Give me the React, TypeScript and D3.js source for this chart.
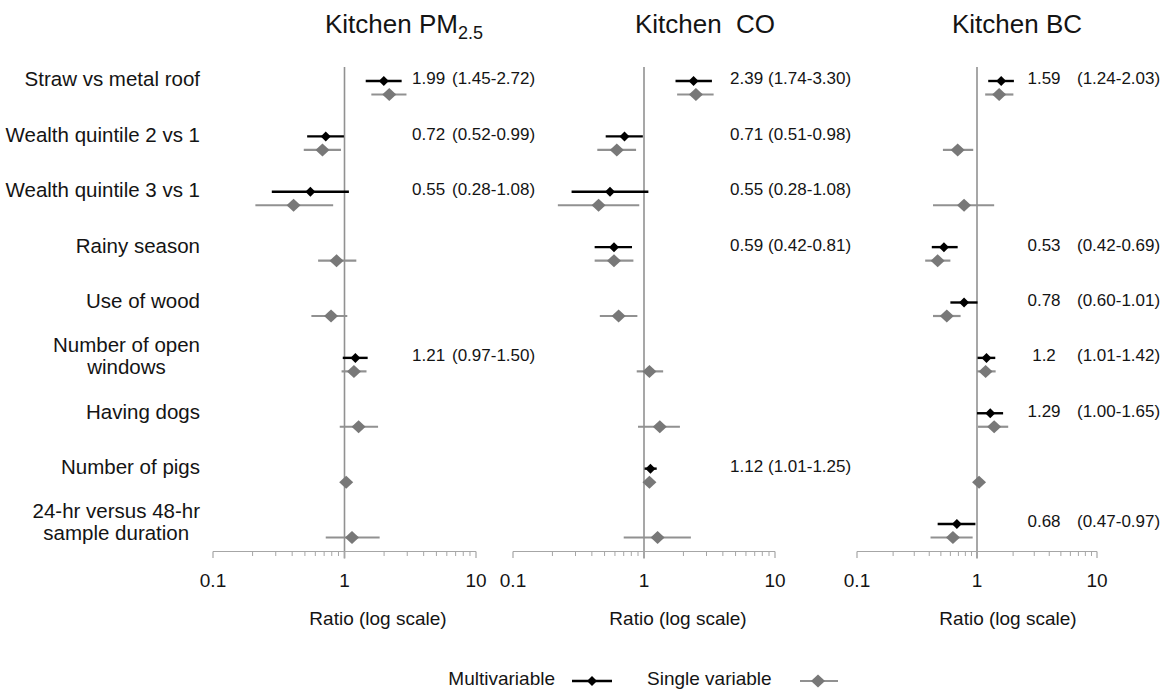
import React from "react";
import * as d3 from "d3";

const categories = [
  "Straw vs metal roof",
  "Wealth quintile 2 vs 1",
  "Wealth quintile 3 vs 1",
  "Rainy season",
  "Use of wood",
  "Number of open\nwindows",
  "Having dogs",
  "Number of pigs",
  "24-hr versus 48-hr\nsample duration",
];

type N = number | null;

// Kitchen PM2.5
const pm25Multi: N[] = [1.99, 0.72, 0.55, null, null, 1.21, null, null, null];
const pm25MultiLo: N[] = [1.45, 0.52, 0.28, null, null, 0.97, null, null, null];
const pm25MultiHi: N[] = [2.72, 0.99, 1.08, null, null, 1.5, null, null, null];
const pm25Single: N[] = [2.19, 0.68, 0.41, 0.87, 0.79, 1.18, 1.28, 1.03, 1.14];
const pm25SingleLo: N[] = [1.6, 0.49, 0.21, 0.63, 0.56, 0.95, 0.92, 1.01, 0.72];
const pm25SingleHi: N[] = [2.96, 0.94, 0.82, 1.23, 1.05, 1.47, 1.8, 1.05, 1.85];

// Kitchen CO
const coMulti: N[] = [2.39, 0.71, 0.55, 0.59, null, null, null, 1.12, null];
const coMultiLo: N[] = [1.74, 0.51, 0.28, 0.42, null, null, null, 1.01, null];
const coMultiHi: N[] = [3.3, 0.98, 1.08, 0.81, null, null, null, 1.25, null];
const coSingle: N[] = [2.49, 0.62, 0.45, 0.59, 0.64, 1.1, 1.32, 1.1, 1.27];
const coSingleLo: N[] = [1.79, 0.44, 0.22, 0.42, 0.46, 0.88, 0.9, 1.07, 0.7];
const coSingleHi: N[] = [3.4, 0.87, 0.92, 0.83, 0.89, 1.4, 1.88, 1.13, 2.28];

// Kitchen BC
const bcMulti: N[] = [1.59, null, null, 0.53, 0.78, 1.2, 1.29, null, 0.68];
const bcMultiLo: N[] = [1.24, null, null, 0.42, 0.6, 1.01, 1.0, null, 0.47];
const bcMultiHi: N[] = [2.03, null, null, 0.69, 1.01, 1.42, 1.65, null, 0.97];
const bcSingle: N[] = [1.53, 0.69, 0.78, 0.47, 0.56, 1.18, 1.39, 1.04, 0.63];
const bcSingleLo: N[] = [1.17, 0.52, 0.43, 0.37, 0.43, 1.0, 1.02, 1.02, 0.41];
const bcSingleHi: N[] = [2.01, 0.93, 1.39, 0.6, 0.73, 1.43, 1.82, 1.06, 0.92];

const majorTicks = [0.1, 1, 10];
const tickLabels = ["0.1", "1", "10"];
const minorTicks = [0.2, 0.3, 0.4, 0.5, 0.6, 0.7, 0.8, 0.9, 2, 3, 4, 5, 6, 7, 8, 9];

const legendLabels = ["Multivariable", "Single variable"];
const axisTitle = "Ratio (log scale)";

const FONT = "'Liberation Sans', Arial, Helvetica, sans-serif";
const TEXT = "#141414";
const GRAY_D = "#787878";
const GRAY_L = "#919191";
const AXIS = "#a6a6a6";

const panels = [
  {
    title: "Kitchen PM", sub: "2.5", x0: 213, x1: 476, titleX: 404, axisTitleX: 378,
    numX: 412, numAnchor: "start", ciX: 452,
    m: pm25Multi, mLo: pm25MultiLo, mHi: pm25MultiHi, s: pm25Single, sLo: pm25SingleLo, sHi: pm25SingleHi,
  },
  {
    title: "Kitchen\u00a0\u00a0CO", sub: "", x0: 513, x1: 775, titleX: 705, axisTitleX: 678,
    numX: 730, numAnchor: "start", ciX: 768,
    m: coMulti, mLo: coMultiLo, mHi: coMultiHi, s: coSingle, sLo: coSingleLo, sHi: coSingleHi,
  },
  {
    title: "Kitchen BC", sub: "", x0: 857, x1: 1097, titleX: 1017, axisTitleX: 1008,
    numX: 1044, numAnchor: "middle", ciX: 1077,
    m: bcMulti, mLo: bcMultiLo, mHi: bcMultiHi, s: bcSingle, sLo: bcSingleLo, sHi: bcSingleHi,
  },
];

const yScale = d3.scaleLinear().domain([0, categories.length - 1]).range([81, 524]);
const SINGLE_OFFSET = 13.5;
const AXIS_Y = 551.5;
const REF_TOP = 67;

function diamond(cx: number, cy: number, rx: number, ry: number) {
  return `M${cx},${cy - ry}L${cx + rx},${cy}L${cx},${cy + ry}L${cx - rx},${cy}Z`;
}

let ctx: CanvasRenderingContext2D | null = null;
function measure(text: string, size: number) {
  if (!ctx) {
    const c = document.createElement("canvas");
    ctx = c.getContext("2d");
  }
  if (!ctx) return text.length * size * 0.5;
  ctx.font = `${size}px 'Liberation Sans', Arial, sans-serif`;
  return ctx.measureText(text).width;
}

function Panel({ p }: { p: (typeof panels)[number] }) {
  const x = d3.scaleLog().domain([0.1, 10]).range([p.x0, p.x1]);
  const one = x(1);
  return (
    <g>
      <text x={p.titleX} y={33} textAnchor="middle" fontSize={26} fill={TEXT} fontFamily={FONT}>
        {p.title}
        {p.sub ? (
          <tspan fontSize={18} dy={6}>{p.sub}</tspan>
        ) : null}
      </text>
      {/* reference line at 1 */}
      <line x1={one} x2={one} y1={REF_TOP} y2={AXIS_Y + 7} stroke={GRAY_L} strokeWidth={1.6} />
      {/* axis */}
      <line x1={x(0.1)} x2={x(10)} y1={AXIS_Y} y2={AXIS_Y} stroke={AXIS} strokeWidth={1.2} />
      {majorTicks.map((t) => (
        <line key={"M" + t} x1={x(t)} x2={x(t)} y1={AXIS_Y} y2={AXIS_Y + 6.5} stroke={AXIS} strokeWidth={1.2} />
      ))}
      {minorTicks.map((t) => (
        <line key={"m" + t} x1={x(t)} x2={x(t)} y1={AXIS_Y} y2={AXIS_Y + 4.5} stroke={AXIS} strokeWidth={1} />
      ))}
      {majorTicks.map((t, i) => (
        <text key={"L" + t} x={x(t)} y={582} textAnchor="middle" dominantBaseline="middle" fontSize={19} fill={TEXT} fontFamily={FONT}>
          {tickLabels[i]}
        </text>
      ))}
      <text x={p.axisTitleX} y={620} textAnchor="middle" dominantBaseline="middle" fontSize={19} fill={TEXT} fontFamily={FONT}>
        {axisTitle}
      </text>
      {/* single variable */}
      {p.s.map((v, i) => {
        if (v == null) return null;
        const cy = yScale(i) + SINGLE_OFFSET;
        return (
          <g key={"s" + i}>
            <line x1={x(p.sLo[i] as number)} x2={x(p.sHi[i] as number)} y1={cy} y2={cy} stroke={GRAY_L} strokeWidth={2.2} />
            <path d={diamond(x(v), cy, 7, 6.5)} fill={GRAY_D} />
          </g>
        );
      })}
      {/* multivariable */}
      {p.m.map((v, i) => {
        if (v == null) return null;
        const cy = yScale(i);
        return (
          <g key={"m" + i}>
            <line x1={x(p.mLo[i] as number)} x2={x(p.mHi[i] as number)} y1={cy} y2={cy} stroke="#000" strokeWidth={2.4} />
            <path d={diamond(x(v), cy, 5, 5)} fill="#000" />
            <text x={p.numX} y={cy - 1} textAnchor={p.numAnchor as any} dominantBaseline="middle" fontSize={17} fill={TEXT} fontFamily={FONT}>
              {String(v)}
            </text>
            <text x={p.ciX} y={cy - 1} dominantBaseline="middle" fontSize={17} fill={TEXT} fontFamily={FONT}>
              {`(${(p.mLo[i] as number).toFixed(2)}-${(p.mHi[i] as number).toFixed(2)})`}
            </text>
          </g>
        );
      })}
    </g>
  );
}

export default function App() {
  const labelRight = 200;
  const labelSize = 20.5;
  return (
    <svg width={1173} height={692} style={{ position: "absolute", left: 0, top: 0, background: "#fff" }}>
      <rect width={1173} height={692} fill="#fff" />
      {categories.map((c, i) => {
        const lines = c.split("\n");
        const cy = yScale(i);
        if (lines.length === 1) {
          return (
            <text key={c} x={labelRight} y={cy} textAnchor="end" dominantBaseline="middle" fontSize={labelSize} fill={TEXT} fontFamily={FONT}>
              {c}
            </text>
          );
        }
        const w = Math.max(...lines.map((l) => measure(l, labelSize)));
        const cx = labelRight - w / 2;
        const lh = 22;
        return (
          <g key={c}>
            {lines.map((l, j) => (
              <text key={j} x={cx} y={cy + (j - (lines.length - 1) / 2) * lh} textAnchor="middle" dominantBaseline="middle" fontSize={labelSize} fill={TEXT} fontFamily={FONT}>
                {l}
              </text>
            ))}
          </g>
        );
      })}
      {panels.map((p, i) => (
        <Panel key={i} p={p} />
      ))}
      {/* legend */}
      <text x={555} y={680} textAnchor="end" dominantBaseline="middle" fontSize={19} fill={TEXT} fontFamily={FONT}>
        {legendLabels[0]}
      </text>
      <line x1={572} x2={612} y1={681} y2={681} stroke="#000" strokeWidth={2.4} />
      <path d={diamond(592, 681, 5, 5)} fill="#000" />
      <text x={647} y={680} textAnchor="start" dominantBaseline="middle" fontSize={19} fill={TEXT} fontFamily={FONT}>
        {legendLabels[1]}
      </text>
      <line x1={800} x2={838} y1={681} y2={681} stroke={GRAY_L} strokeWidth={2.2} />
      <path d={diamond(818, 681, 7, 6.5)} fill={GRAY_D} />
    </svg>
  );
}
